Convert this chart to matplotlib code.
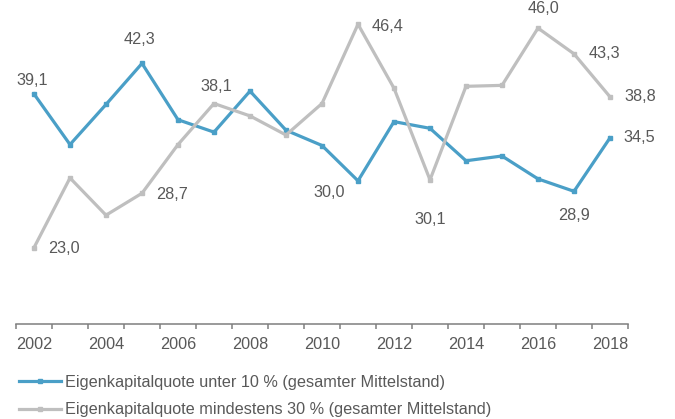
import matplotlib
matplotlib.use("Agg")
import matplotlib.pyplot as plt

plt.rcParams["font.family"] = ["Liberation Sans", "DejaVu Sans"]

years = list(range(2002, 2019))
unter_10 = [39.1, 33.8, 38.0, 42.3, 36.4, 35.1, 39.4, 35.3, 33.7, 30.0,
            36.2, 35.5, 32.1, 32.6, 30.2, 28.9, 34.5]
mind_30 = [23.0, 30.3, 26.4, 28.7, 33.8, 38.1, 36.8, 34.8, 38.1, 46.4,
           39.7, 30.1, 39.9, 40.0, 46.0, 43.3, 38.8]
series_names = ["Eigenkapitalquote unter 10 % (gesamter Mittelstand)",
                "Eigenkapitalquote mindestens 30 % (gesamter Mittelstand)"]

# which points get a value label, with label offset in pixels (dx, dy)
labels_unter = {2002: (-2, 13), 2005: (-2, 24), 2011: (-29, -12),
                2017: (0, -24), 2018: (29, 0)}
labels_mind = {2002: (30, -1), 2005: (30, -1), 2007: (2, 17), 2011: (30, -2),
               2013: (0, -40), 2016: (6, 20), 2017: (30, 0), 2018: (30, 0)}

BLUE = "#4a9fc7"
GRAY = "#bfbfbf"
TEXT = "#595959"
FS = 11.7

W, H = 675, 419
fig = plt.figure(figsize=(W / 100, H / 100), dpi=100)
ax = fig.add_axes([16 / W, (H - 324) / H, 612 / W, 315 / H])

x = list(range(len(years)))
ax.plot(x, unter_10, color=BLUE, lw=2.3, marker="s", ms=3.0, label=series_names[0])
ax.plot(x, mind_30, color=GRAY, lw=2.3, marker="s", ms=3.0, label=series_names[1])

for vals, lab in ((unter_10, labels_unter), (mind_30, labels_mind)):
    for yr, (dx, dy) in lab.items():
        i = years.index(yr)
        ax.annotate(f"{vals[i]:.1f}".replace(".", ","), (i, vals[i]),
                    xytext=(dx, dy), textcoords="offset pixels",
                    ha="center", va="center", fontsize=FS, color=TEXT)

ax.set_xlim(-0.5, len(years) - 0.5)
ax.set_ylim(15, 48)
ax.set_xticks(x[::2])
ax.set_xticklabels([str(y) for y in years[::2]])
ax.set_xticks([i - 0.5 for i in range(len(years) + 1)], minor=True)
ax.tick_params(axis="x", which="major", length=0, pad=9, labelsize=FS, labelcolor=TEXT)
ax.tick_params(axis="x", which="minor", length=3.6, width=1.1, color="#7f7f7f", direction="out")
ax.set_yticks([])
for s in ("left", "right", "top"):
    ax.spines[s].set_visible(False)
ax.spines["bottom"].set_color("#7f7f7f")
ax.spines["bottom"].set_linewidth(1.1)

fig.legend(loc="upper left", bbox_to_anchor=(19 / W, 1 - 375 / H), frameon=False,
           fontsize=FS, labelcolor=TEXT, handlelength=2.6, handletextpad=0.25,
           labelspacing=0.75, borderpad=0, borderaxespad=0, numpoints=1)

fig.savefig("out.png", dpi=100)
